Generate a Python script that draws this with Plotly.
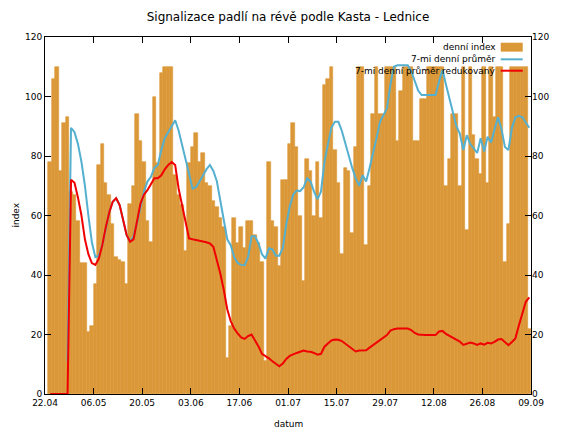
import pandas as pd
import plotly.graph_objects as go

# daily index values (23.04 – 08.09)
denni_index = [78, 106, 110, 75, 91, 93, 68, 67, 58, 44,
               44, 21, 23, 37, 77, 84, 71, 67, 57, 46,
               45, 44.5, 37, 64, 70, 94, 85, 78, 58, 51,
               100, 77.5, 108, 110, 110, 110, 73.6, 67, 63.5, 48,
               77.5, 83, 87.6, 78, 81, 71, 70, 65, 63, 59,
               56, 12, 23, 59, 50.6, 56, 49, 58, 58, 53.4,
               50.6, 44.5, 11, 78, 58, 56, 43, 72, 72, 84,
               91, 83, 60, 38, 79, 75, 60, 78, 59, 104,
               106, 110, 82, 71, 47, 76, 75, 54, 83, 110,
               110, 50, 70, 94, 110, 94, 94, 110, 110, 110,
               85, 102, 110, 110, 110, 85, 85, 99, 99, 110,
               110, 110, 110, 110, 70, 79, 94, 94, 70, 110,
               55, 110, 87, 79, 74, 110, 71, 110, 93, 110,
               110, 44.5, 57, 110, 110, 110, 110, 110, 22]

prumer7 = [None, None, None, None, None, 11, 89.5, 88, 84, 78,
           70, 60, 51, 46, 46.5, 50, 56, 61, 64.6, 65.8,
           63.5, 58, 53.5, 51.2, 53, 57.5, 63, 68, 71.4, 73,
           76, 77, 82, 86, 88, 90, 92, 88.5, 84, 78.5,
           74, 69, 69.5, 71.4, 73.5, 75.5, 77, 75, 71.5, 65,
           59, 52, 50, 46, 44, 43.4, 43.3, 46, 53, 53,
           50.6, 47, 45.5, 49, 48.6, 46.5, 46.5, 49, 57, 63,
           67, 68.4, 68.2, 69.5, 72.5, 71.4, 68, 65.5, 68, 78,
           84, 89.5, 91.5, 91.5, 88.5, 84, 80.5, 76, 72.5, 70,
           73.5, 71.4, 76, 80.5, 86, 91.5, 94, 96, 104, 110,
           110.5, 110.5, 110.5, 110.5, 108.5, 105.5, 102, 100.5, 100.5, 100.5,
           100.5, 100.5, 105, 109, 104, 99.4, 95.5, 90, 87.5, 82,
           87, 84, 82.6, 81, 86, 81.5, 86.5, 84.5, 89, 93,
           89, 83, 82, 89.5, 93, 93.5, 93, 91, 89.5]

prumer7_red = [0, 0, 0, 0, 0, 0, 72, 71, 66, 60,
               52, 47, 44, 43.4, 45.5, 50, 56, 61, 64.6, 65.8,
               63.5, 58, 53.5, 51.2, 52, 58, 64, 67, 68.5, 70.5,
               72.5, 72.5, 73.5, 75.5, 77, 78, 77, 69, 63, 57,
               52.3, 52, 51.8, 51.5, 51.2, 51, 50.6, 49.5, 45, 40.5,
               35, 28.5, 24.5, 22, 20.4, 19, 18.5, 19.5, 20, 18,
               16, 13.5, 12.8, 12, 11, 10, 9.3, 10.2, 11.8, 12.8,
               13.4, 13.8, 14.2, 14.6, 14.3, 14.2, 13.8, 13.2, 13.5, 15.9,
               17, 18, 18.3, 18.2, 17.8, 17, 16, 15.2, 14.3, 14.6,
               14.7, 14.7, 15.6, 16.5, 17.3, 18.3, 19, 19.8, 21.3, 21.8,
               22, 22, 22, 22, 21.5, 20.5, 20, 19.8, 19.8, 19.8,
               19.8, 19.8, 21, 21.2, 20.2, 19.6, 18.8, 18.3, 17.6, 16.5,
               16.8, 17.3, 17, 16.5, 17, 16.6, 17.2, 17, 17.5, 18.3,
               18.5, 17.5, 16.4, 17.5, 18.7, 23, 27.5, 31, 32.5]

tick_dates = ["2012-04-22", "2012-05-06", "2012-05-20", "2012-06-03", "2012-06-17",
              "2012-07-01", "2012-07-15", "2012-07-29", "2012-08-12", "2012-08-26",
              "2012-09-09"]
tick_labels = ["22.04", "06.05", "20.05", "03.06", "17.06", "01.07",
               "15.07", "29.07", "12.08", "26.08", "09.09"]
y_ticks = [0, 20, 40, 60, 80, 100, 120]

dates = pd.date_range("2012-04-23", periods=len(denni_index), freq="D")

ORANGE = "#DB9838"
BLUE = "#55B0CF"
RED = "#F00000"
FONT = "DejaVu Sans"
DAY_MS = 86400000

fig = go.Figure()
fig.add_trace(go.Bar(
    x=dates, y=denni_index, xperiod=DAY_MS, xperiodalignment="middle",
    width=DAY_MS, marker=dict(color=ORANGE, line=dict(color=ORANGE, width=0.6)),
    name="denní index", showlegend=False))
fig.add_trace(go.Scatter(
    x=dates, y=prumer7, xperiod=DAY_MS, xperiodalignment="middle",
    mode="lines", line=dict(color=BLUE, width=2), connectgaps=False,
    name="7-mi denní průměr", showlegend=False))
fig.add_trace(go.Scatter(
    x=dates, y=prumer7_red, xperiod=DAY_MS, xperiodalignment="middle",
    mode="lines", line=dict(color=RED, width=2),
    name="7-mi denní průměr redukovaný", showlegend=False))
# invisible copy on the right-hand axis so that its labels are drawn
fig.add_trace(go.Scatter(x=dates, y=prumer7_red, xperiod=DAY_MS, xperiodalignment="middle",
                         yaxis="y2", mode="lines", line=dict(width=0),
                         hoverinfo="skip", showlegend=False, opacity=0))

axis_common = dict(showline=True, linecolor="black", linewidth=1,
                   ticks="inside", ticklen=6, tickcolor="black",
                   showgrid=False, zeroline=False, automargin=False,
                   tickfont=dict(family=FONT, size=9, color="black"))

fig.update_layout(
    width=576, height=432,
    margin=dict(l=45, r=45, t=37, b=38, autoexpand=False),
    paper_bgcolor="white", plot_bgcolor="white",
    bargap=0,
    title=dict(text="Signalizace padlí na révě podle Kasta - Lednice",
               x=0.5, xanchor="center", xref="paper", y=1 - 17 / 432, yanchor="middle",
               font=dict(family=FONT, size=12, color="black")),
    xaxis=dict(type="date", range=[tick_dates[0], tick_dates[-1]],
               tickmode="array", tickvals=tick_dates, ticktext=tick_labels,
               mirror="ticks", **axis_common),
    yaxis=dict(range=[0, 120], tickmode="array", tickvals=y_ticks,
               mirror="ticks", **axis_common),
    yaxis2=dict(range=[0, 120], tickmode="array", tickvals=y_ticks,
                overlaying="y", side="right", showline=False, ticks="",
                showgrid=False, zeroline=False, automargin=False,
                tickfont=dict(family=FONT, size=9, color="black")),
    showlegend=False,
)

# axis titles
fig.add_annotation(text="index", xref="paper", yref="paper", x=-0.076, y=0.5,
                   textangle=-90, showarrow=False,
                   font=dict(family=FONT, size=9, color="black"))
fig.add_annotation(text="datum", xref="paper", yref="paper", x=0.5, y=-0.084,
                   showarrow=False, yanchor="middle",
                   font=dict(family=FONT, size=9, color="black"))

# legend (text on the left, sample on the right, gnuplot style)
legend_items = [("denní index", 0.972), ("7-mi denní průměr", 0.9375),
                ("7-mi denní průměr redukovaný", 0.9056)]
for text, yy in legend_items:
    fig.add_annotation(text=text, xref="paper", yref="paper", x=0.933, y=yy,
                       xanchor="right", yanchor="middle", showarrow=False,
                       font=dict(family=FONT, size=9, color="black"))
fig.add_shape(type="rect", xref="paper", yref="paper", x0=0.9377, x1=0.983,
              y0=0.959, y1=0.984, fillcolor=ORANGE, line=dict(width=0))
fig.add_shape(type="line", xref="paper", yref="paper", x0=0.9377, x1=0.983,
              y0=0.9375, y1=0.9375, line=dict(color=BLUE, width=2))
fig.add_shape(type="line", xref="paper", yref="paper", x0=0.9377, x1=0.983,
              y0=0.9056, y1=0.9056, line=dict(color=RED, width=2))

fig.write_html("out.html", config={"displayModeBar": False},
               post_script="document.body.style.margin='0';document.body.style.padding='0';")
